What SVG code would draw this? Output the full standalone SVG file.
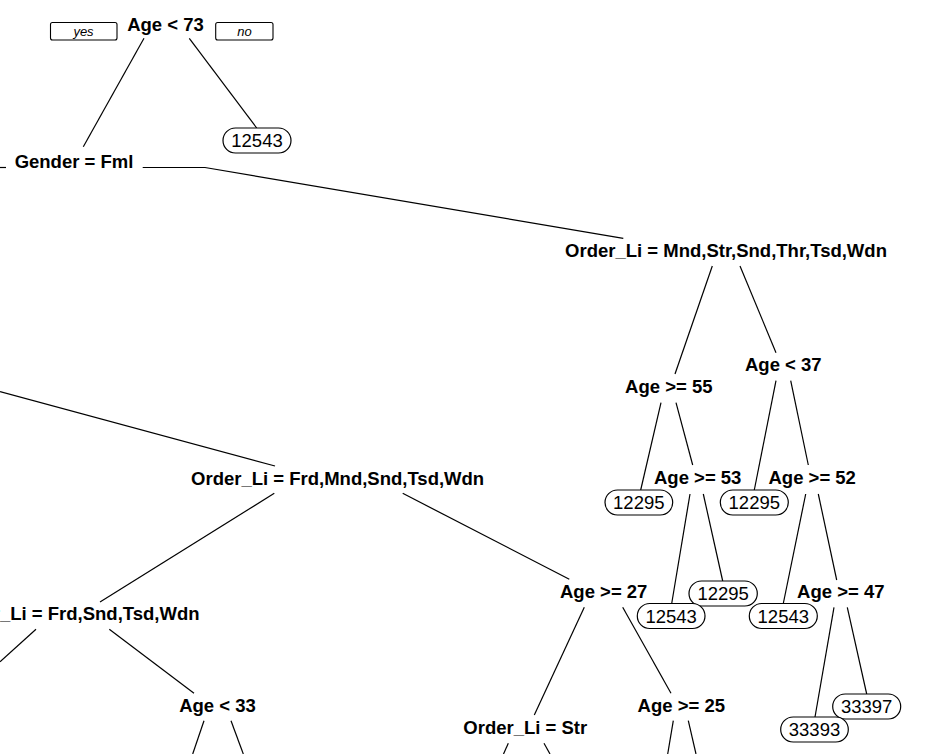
<svg xmlns="http://www.w3.org/2000/svg" width="925" height="754" viewBox="0 0 925 754">
<style>
.split{font-family:"Liberation Sans",Arial,Helvetica,sans-serif;font-weight:bold;font-size:18.5px;text-anchor:middle;fill:#000}
.leaf text{font-family:"Liberation Sans",Arial,Helvetica,sans-serif;font-size:18.5px;text-anchor:middle;fill:#000}
.leaf rect{fill:#fff;stroke:#000;stroke-width:1.2}
.yn rect{fill:#fff;stroke:#000;stroke-width:1.1}
.yn text{font-family:"Liberation Sans",Arial,Helvetica,sans-serif;font-style:italic;font-size:13px;text-anchor:middle;fill:#000}
#connectors line,#connectors polyline{stroke:#000;stroke-width:1.2;fill:none}
</style>
<rect width="925" height="754" fill="#fff"/>
<g id="connectors">
<line x1="144" y1="38.3" x2="83.3" y2="146.7"/>
<line x1="189.3" y1="38.3" x2="256.7" y2="128"/>
<line x1="0" y1="167.5" x2="6" y2="167.5"/>
<polyline points="142.7,167.5 205,167.5 623.3,238.3"/>
<line x1="0" y1="391.7" x2="275" y2="466"/>
<line x1="712.3" y1="266" x2="675" y2="374"/>
<line x1="740" y1="266" x2="776" y2="352.7"/>
<line x1="661" y1="402.7" x2="640.7" y2="490"/>
<line x1="676" y1="402.7" x2="692.7" y2="465"/>
<line x1="776" y1="380.7" x2="754.3" y2="490"/>
<line x1="790.7" y1="380.7" x2="808.3" y2="465"/>
<line x1="690" y1="494" x2="671.7" y2="603.5"/>
<line x1="703.3" y1="494" x2="722.7" y2="581"/>
<line x1="805.7" y1="494" x2="783.3" y2="603.5"/>
<line x1="818.3" y1="494" x2="836.7" y2="580"/>
<line x1="834" y1="607.3" x2="815" y2="717"/>
<line x1="847.3" y1="607.3" x2="866.7" y2="694"/>
<line x1="274.3" y1="493.3" x2="100" y2="602"/>
<line x1="402.7" y1="493.3" x2="569.3" y2="579.3"/>
<line x1="36" y1="629.3" x2="0" y2="661.7"/>
<line x1="109.3" y1="629.3" x2="194" y2="693.3"/>
<line x1="204" y1="720.7" x2="192.7" y2="754"/>
<line x1="231" y1="720.7" x2="243.3" y2="754"/>
<line x1="584.3" y1="607.3" x2="534.3" y2="715"/>
<line x1="622.7" y1="607.3" x2="671" y2="693.3"/>
<line x1="508.3" y1="743.3" x2="503.5" y2="754"/>
<line x1="544" y1="743.3" x2="550" y2="754"/>
<line x1="673.3" y1="720.7" x2="667.7" y2="754"/>
<line x1="688.3" y1="720.7" x2="696" y2="754"/>
</g>
<g id="yes-no" class="yn">
<rect x="50.5" y="22.5" width="66.5" height="17.5" rx="2"/>
<text x="83.5" y="36">yes</text>
<rect x="215.7" y="22.5" width="57.3" height="17.5" rx="2"/>
<text x="244.4" y="36">no</text>
</g>
<g id="n1"><text class="split" x="165.5" y="30.5">Age &lt; 73</text></g>
<g id="n3" class="leaf"><rect x="223" y="128" width="68" height="25" rx="12.5"/><text x="257" y="147">12543</text></g>
<g id="n2"><text class="split" x="74" y="168">Gender = Fml</text></g>
<g id="n5"><text class="split" x="726" y="257">Order_Li = Mnd,Str,Snd,Thr,Tsd,Wdn</text></g>
<g id="n10"><text class="split" x="668.8" y="393">Age &gt;= 55</text></g>
<g id="n11"><text class="split" x="783.3" y="370.7">Age &lt; 37</text></g>
<g id="n20" class="leaf"><rect x="605" y="490" width="67.7" height="25" rx="12.5"/><text x="638.8" y="509">12295</text></g>
<g id="n21"><text class="split" x="697.7" y="484">Age &gt;= 53</text></g>
<g id="n22" class="leaf"><rect x="720.3" y="490" width="68" height="25" rx="12.5"/><text x="754.3" y="509">12295</text></g>
<g id="n23"><text class="split" x="812.2" y="484">Age &gt;= 52</text></g>
<g id="n43" class="leaf"><rect x="689" y="581" width="68.3" height="25" rx="12.5"/><text x="723.2" y="600">12295</text></g>
<g id="n42" class="leaf"><rect x="637.3" y="603.5" width="67.7" height="25" rx="12.5"/><text x="671.2" y="622.5">12543</text></g>
<g id="n46" class="leaf"><rect x="749.3" y="603.5" width="68" height="25" rx="12.5"/><text x="783.3" y="622.5">12543</text></g>
<g id="n47"><text class="split" x="840.8" y="597.5">Age &gt;= 47</text></g>
<g id="n95" class="leaf"><rect x="832.7" y="694" width="68" height="25" rx="12.5"/><text x="866.7" y="713">33397</text></g>
<g id="n94" class="leaf"><rect x="780.7" y="717" width="67.6" height="25" rx="12.5"/><text x="814.5" y="736">33393</text></g>
<g id="n8"><text class="split" x="337.6" y="485">Order_Li = Frd,Mnd,Snd,Tsd,Wdn</text></g>
<g id="n16"><text class="split" x="199.5" y="620" style="text-anchor:end">Order_Li = Frd,Snd,Tsd,Wdn</text></g>
<g id="n33"><text class="split" x="217.5" y="712">Age &lt; 33</text></g>
<g id="n17"><text class="split" x="603.7" y="598">Age &gt;= 27</text></g>
<g id="n34"><text class="split" x="525.3" y="734">Order_Li = Str</text></g>
<g id="n35"><text class="split" x="681.3" y="711.7">Age &gt;= 25</text></g>
</svg>
